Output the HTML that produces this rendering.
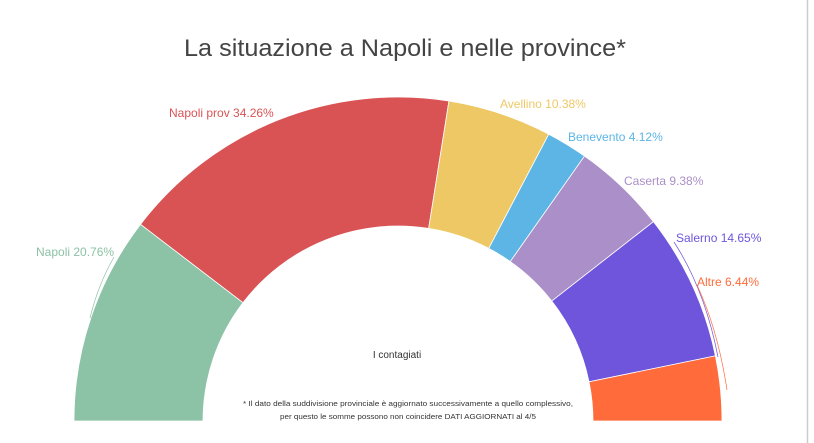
<!DOCTYPE html>
<html><head><meta charset="utf-8"><style>
html,body{margin:0;padding:0;background:#fff;width:814px;height:443px;overflow:hidden}
text{font-family:"Liberation Sans",sans-serif}
</style></head><body>
<svg id="s" width="814" height="443" xmlns="http://www.w3.org/2000/svg">
<line x1="807.5" y1="0" x2="807.5" y2="443" stroke="#ccc" stroke-width="1.5"/>
<text x="405" y="56" text-anchor="middle" font-size="24" fill="#444" textLength="442" lengthAdjust="spacingAndGlyphs">La situazione a Napoli e nelle province*</text>
<g id="slices"></g>
<text x="397" y="358" text-anchor="middle" font-size="10" fill="#333">I contagiati</text>
<text x="408" y="406" text-anchor="middle" font-size="7.5" fill="#333" textLength="330" lengthAdjust="spacingAndGlyphs">* Il dato della suddivisione provinciale è aggiornato successivamente a quello complessivo,</text>
<text x="408" y="419" text-anchor="middle" font-size="7.5" fill="#333" textLength="256" lengthAdjust="spacingAndGlyphs">per questo le somme possono non coincidere DATI AGGIORNATI al 4/5</text>
<g font-size="12">
<text x="36" y="256" fill="#8cc2a6">Napoli 20.76%</text>
<text x="169" y="117" fill="#d95354">Napoli prov 34.26%</text>
<text x="500" y="108" fill="#eec865">Avellino 10.38%</text>
<text x="568" y="141" fill="#5cb5e5">Benevento 4.12%</text>
<text x="624" y="185" fill="#ab8fc8">Caserta 9.38%</text>
<text x="676" y="242" fill="#6e55dc">Salerno 14.65%</text>
<text x="697" y="286" fill="#ff6b3a">Altre 6.44%</text>
</g>
<path d="M114 257 Q98 285 90 318" fill="none" stroke="#8cc2a6" stroke-width="0.7"/>
<path d="M674 242 Q705 290 718 357" fill="none" stroke="#6e55dc" stroke-width="0.7"/>
<path d="M697 285 Q718 330 727 390" fill="none" stroke="#ff6b3a" stroke-width="0.7"/>
</svg>
<script>
var cx=398,cy=421,R=324,r=195;
var d=[[20.76,"#8cc2a6"],[34.26,"#d95354"],[10.38,"#eec865"],[4.12,"#5cb5e5"],[9.38,"#ab8fc8"],[14.65,"#6e55dc"],[6.44,"#ff6b3a"]];
var tot=0;d.forEach(function(x){tot+=x[0]});
var a=Math.PI,g=document.getElementById("slices"),h="";
function p(rad,ang){return (cx+rad*Math.cos(ang)).toFixed(2)+" "+(cy-rad*Math.sin(ang)).toFixed(2)}
d.forEach(function(x){var b=a-Math.PI*x[0]/tot;
h+='<path d="M'+p(R,a)+' A'+R+' '+R+' 0 0 1 '+p(R,b)+' L'+p(r,b)+' A'+r+' '+r+' 0 0 0 '+p(r,a)+' Z" fill="'+x[1]+'" stroke="#fff" stroke-width="0.8"/>';a=b;});
g.innerHTML=h;
</script>
</body></html>
